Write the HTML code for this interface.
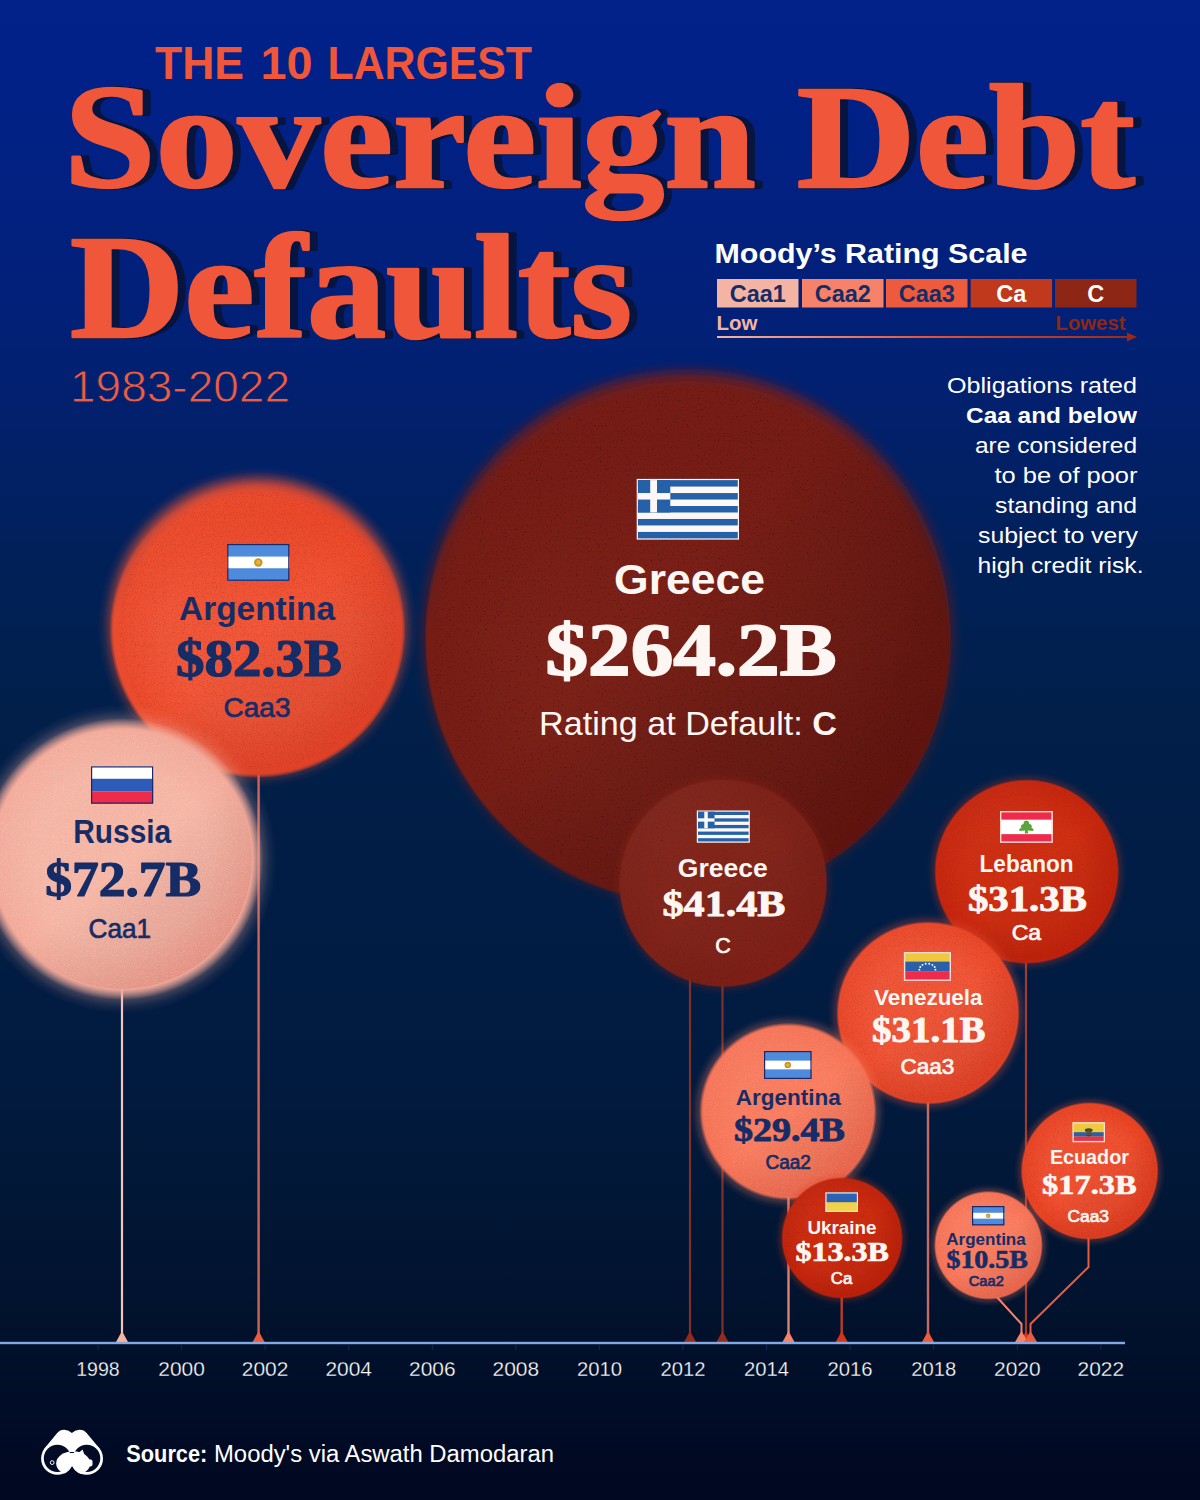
<!DOCTYPE html>
<html lang="en">
<head>
<meta charset="utf-8">
<title>The 10 Largest Sovereign Debt Defaults 1983-2022</title>
<style>
html,body{margin:0;padding:0;background:#010822}
body{width:1200px;height:1500px;overflow:hidden;position:relative;font-family:"Liberation Sans",sans-serif}
#bg{position:absolute;left:0;top:0;width:1200px;height:1500px;background:linear-gradient(180deg,#012289 0px,#012189 60px,#022079 300px,#02206c 420px,#012059 560px,#012050 650px,#011f4a 710px,#011d45 880px,#011b40 1060px,#011736 1200px,#01122d 1320px,#010822 1480px)}
svg{position:absolute;left:0;top:0;display:block}
text{white-space:pre}
.ttl{filter:drop-shadow(1.25px .5px 0 #071540) drop-shadow(1.25px .5px 0 #071540) drop-shadow(1.25px .5px 0 #071540) drop-shadow(1.25px .5px 0 #071540) drop-shadow(1.25px .5px 0 #071540) drop-shadow(1.25px .5px 0 #071540) drop-shadow(1.25px .5px 0 #071540) drop-shadow(1.25px .5px 0 #071540)}
</style>
</head>
<body>
<div id="bg"></div>
<svg width="1200" height="1500" viewBox="0 0 1200 1500">
<defs>
<radialGradient id="gl_greeceBig" cx="687.7" cy="637" r="276" gradientUnits="userSpaceOnUse"><stop offset="0" stop-color="#7e1f16" stop-opacity="0.36"/><stop offset="0.9384" stop-color="#7e1f16" stop-opacity="0.36"/><stop offset="0.9660" stop-color="#7e1f16" stop-opacity="0.187"/><stop offset="0.9828" stop-color="#7e1f16" stop-opacity="0.065"/><stop offset="1" stop-color="#7e1f16" stop-opacity="0"/></radialGradient>
<radialGradient id="g_greeceBig" cx="687.7" cy="640" r="263.5" gradientUnits="userSpaceOnUse"><stop offset="0" stop-color="#7b2118"/><stop offset=".62" stop-color="#7b2118"/><stop offset="0.9886" stop-color="#751d15"/><stop offset="1" stop-color="#751d15" stop-opacity="0"/></radialGradient>
<radialGradient id="gl_arg01" cx="257.5" cy="627" r="160" gradientUnits="userSpaceOnUse"><stop offset="0" stop-color="#f0573a" stop-opacity="0.42"/><stop offset="0.8938" stop-color="#f0573a" stop-opacity="0.42"/><stop offset="0.9414" stop-color="#f0573a" stop-opacity="0.218"/><stop offset="0.9703" stop-color="#f0573a" stop-opacity="0.076"/><stop offset="1" stop-color="#f0573a" stop-opacity="0"/></radialGradient>
<radialGradient id="g_arg01" cx="257.5" cy="630" r="148.0" gradientUnits="userSpaceOnUse"><stop offset="0" stop-color="#f25739"/><stop offset=".62" stop-color="#f25739"/><stop offset="0.9730" stop-color="#ec4a2c"/><stop offset="1" stop-color="#ec4a2c" stop-opacity="0"/></radialGradient>
<radialGradient id="gl_russia" cx="122" cy="859" r="154.5" gradientUnits="userSpaceOnUse"><stop offset="0" stop-color="#f3ae9e" stop-opacity="0.42"/><stop offset="0.8576" stop-color="#f3ae9e" stop-opacity="0.42"/><stop offset="0.9176" stop-color="#f3ae9e" stop-opacity="0.218"/><stop offset="0.9582" stop-color="#f3ae9e" stop-opacity="0.076"/><stop offset="1" stop-color="#f3ae9e" stop-opacity="0"/></radialGradient>
<radialGradient id="g_russia" cx="122" cy="859" r="141.0" gradientUnits="userSpaceOnUse"><stop offset="0" stop-color="#f6b6a6"/><stop offset=".62" stop-color="#f6b6a6"/><stop offset="0.9220" stop-color="#f3aa9a"/><stop offset="1" stop-color="#f3aa9a" stop-opacity="0"/></radialGradient>
<radialGradient id="gl_greece12" cx="723" cy="883" r="112.5" gradientUnits="userSpaceOnUse"><stop offset="0" stop-color="#8a2418" stop-opacity="0.32"/><stop offset="0.8933" stop-color="#8a2418" stop-opacity="0.32"/><stop offset="0.9464" stop-color="#8a2418" stop-opacity="0.166"/><stop offset="0.9728" stop-color="#8a2418" stop-opacity="0.058"/><stop offset="1" stop-color="#8a2418" stop-opacity="0"/></radialGradient>
<radialGradient id="g_greece12" cx="723" cy="883" r="104.5" gradientUnits="userSpaceOnUse"><stop offset="0" stop-color="#82251b"/><stop offset=".62" stop-color="#82251b"/><stop offset="0.9809" stop-color="#7c2118"/><stop offset="1" stop-color="#7c2118" stop-opacity="0"/></radialGradient>
<radialGradient id="gl_lebanon" cx="1026.6" cy="871.6" r="100.5" gradientUnits="userSpaceOnUse"><stop offset="0" stop-color="#d8391a" stop-opacity="0.32"/><stop offset="0.8806" stop-color="#d8391a" stop-opacity="0.32"/><stop offset="0.9400" stop-color="#d8391a" stop-opacity="0.166"/><stop offset="0.9696" stop-color="#d8391a" stop-opacity="0.058"/><stop offset="1" stop-color="#d8391a" stop-opacity="0"/></radialGradient>
<radialGradient id="g_lebanon" cx="1026.6" cy="871.6" r="92.5" gradientUnits="userSpaceOnUse"><stop offset="0" stop-color="#cf2f12"/><stop offset=".62" stop-color="#cf2f12"/><stop offset="0.9784" stop-color="#c5250d"/><stop offset="1" stop-color="#c5250d" stop-opacity="0"/></radialGradient>
<radialGradient id="gl_venezuela" cx="928" cy="1013" r="100.5" gradientUnits="userSpaceOnUse"><stop offset="0" stop-color="#f0573a" stop-opacity="0.36"/><stop offset="0.8706" stop-color="#f0573a" stop-opacity="0.36"/><stop offset="0.9333" stop-color="#f0573a" stop-opacity="0.187"/><stop offset="0.9662" stop-color="#f0573a" stop-opacity="0.065"/><stop offset="1" stop-color="#f0573a" stop-opacity="0"/></radialGradient>
<radialGradient id="g_venezuela" cx="928" cy="1013" r="91.75" gradientUnits="userSpaceOnUse"><stop offset="0" stop-color="#f15638"/><stop offset=".62" stop-color="#f15638"/><stop offset="0.9728" stop-color="#ea4829"/><stop offset="1" stop-color="#ea4829" stop-opacity="0"/></radialGradient>
<radialGradient id="gl_arg14" cx="788" cy="1111.5" r="98" gradientUnits="userSpaceOnUse"><stop offset="0" stop-color="#f87e62" stop-opacity="0.4"/><stop offset="0.8571" stop-color="#f87e62" stop-opacity="0.4"/><stop offset="0.9248" stop-color="#f87e62" stop-opacity="0.208"/><stop offset="0.9618" stop-color="#f87e62" stop-opacity="0.072"/><stop offset="1" stop-color="#f87e62" stop-opacity="0"/></radialGradient>
<radialGradient id="g_arg14" cx="788" cy="1111.5" r="88.75" gradientUnits="userSpaceOnUse"><stop offset="0" stop-color="#f97c5f"/><stop offset=".62" stop-color="#f97c5f"/><stop offset="0.9606" stop-color="#f67356"/><stop offset="1" stop-color="#f67356" stop-opacity="0"/></radialGradient>
<radialGradient id="gl_ecuador" cx="1089.6" cy="1171" r="76" gradientUnits="userSpaceOnUse"><stop offset="0" stop-color="#f0573a" stop-opacity="0.34"/><stop offset="0.8553" stop-color="#f0573a" stop-opacity="0.34"/><stop offset="0.9295" stop-color="#f0573a" stop-opacity="0.177"/><stop offset="0.9642" stop-color="#f0573a" stop-opacity="0.061"/><stop offset="1" stop-color="#f0573a" stop-opacity="0"/></radialGradient>
<radialGradient id="g_ecuador" cx="1089.6" cy="1171" r="69.0" gradientUnits="userSpaceOnUse"><stop offset="0" stop-color="#f05131"/><stop offset=".62" stop-color="#f05131"/><stop offset="0.9710" stop-color="#e84222"/><stop offset="1" stop-color="#e84222" stop-opacity="0"/></radialGradient>
<radialGradient id="gl_ukraine" cx="842" cy="1238" r="68" gradientUnits="userSpaceOnUse"><stop offset="0" stop-color="#d8391a" stop-opacity="0.32"/><stop offset="0.8382" stop-color="#d8391a" stop-opacity="0.32"/><stop offset="0.9212" stop-color="#d8391a" stop-opacity="0.166"/><stop offset="0.9600" stop-color="#d8391a" stop-opacity="0.058"/><stop offset="1" stop-color="#d8391a" stop-opacity="0"/></radialGradient>
<radialGradient id="g_ukraine" cx="842" cy="1238" r="61.0" gradientUnits="userSpaceOnUse"><stop offset="0" stop-color="#cc2c10"/><stop offset=".62" stop-color="#cc2c10"/><stop offset="0.9672" stop-color="#c1230b"/><stop offset="1" stop-color="#c1230b" stop-opacity="0"/></radialGradient>
<radialGradient id="gl_arg20" cx="988.4" cy="1245.3" r="61.5" gradientUnits="userSpaceOnUse"><stop offset="0" stop-color="#f87e62" stop-opacity="0.36"/><stop offset="0.8211" stop-color="#f87e62" stop-opacity="0.36"/><stop offset="0.9128" stop-color="#f87e62" stop-opacity="0.187"/><stop offset="0.9558" stop-color="#f87e62" stop-opacity="0.065"/><stop offset="1" stop-color="#f87e62" stop-opacity="0"/></radialGradient>
<radialGradient id="g_arg20" cx="988.4" cy="1245.3" r="54.5" gradientUnits="userSpaceOnUse"><stop offset="0" stop-color="#f97c5f"/><stop offset=".62" stop-color="#f97c5f"/><stop offset="0.9633" stop-color="#f67154"/><stop offset="1" stop-color="#f67154" stop-opacity="0"/></radialGradient>
<linearGradient id="shadeBig" x1="0.1" y1="0.15" x2="0.9" y2="0.9"><stop offset="0" stop-color="#000" stop-opacity="0"/><stop offset=".4" stop-color="#000" stop-opacity="0"/><stop offset="1" stop-color="#3a0000" stop-opacity=".38"/></linearGradient>
<linearGradient id="shade" x1="0.15" y1="0.1" x2="0.85" y2="0.95"><stop offset="0" stop-color="#fff" stop-opacity=".03"/><stop offset=".5" stop-color="#000" stop-opacity="0"/><stop offset="1" stop-color="#a80800" stop-opacity=".17"/></linearGradient>
<filter id="grainA" x="0" y="0" width="100%" height="100%" color-interpolation-filters="sRGB"><feTurbulence type="fractalNoise" baseFrequency="0.55" numOctaves="1" seed="7" result="n"/><feColorMatrix in="n" type="matrix" values="0 0 0 0 0.22  0 0 0 0 0.02  0 0 0 0 0.01  4.2 0 0 0 -2.55" result="a"/><feComposite in="a" in2="SourceAlpha" operator="in"/></filter>
<filter id="grainB" x="0" y="0" width="100%" height="100%" color-interpolation-filters="sRGB"><feTurbulence type="fractalNoise" baseFrequency="0.9" numOctaves="2" seed="11" result="n"/><feColorMatrix in="n" type="matrix" values="0 0 0 0 0.55  0 0 0 0 0.08  0 0 0 0 0.02  3.4 0 0 0 -1.75" result="a"/><feComposite in="a" in2="SourceAlpha" operator="in"/></filter>
<filter id="grainC" x="0" y="0" width="100%" height="100%" color-interpolation-filters="sRGB"><feTurbulence type="fractalNoise" baseFrequency="0.9" numOctaves="2" seed="5" result="n"/><feColorMatrix in="n" type="matrix" values="0 0 0 0 1  0 0 0 0 0.93  0 0 0 0 0.88  3.4 0 0 0 -1.75" result="a"/><feComposite in="a" in2="SourceAlpha" operator="in"/></filter>
<linearGradient id="mg_greeceBig" x1="0" y1="368" x2="0" y2="626.9" gradientUnits="userSpaceOnUse"><stop offset="0" stop-color="#fff" stop-opacity="0"/><stop offset=".25" stop-color="#fff" stop-opacity="0"/><stop offset="1" stop-color="#fff" stop-opacity="1"/></linearGradient>
<mask id="mk_greeceBig" maskUnits="userSpaceOnUse" x="413.70000000000005" y="366" width="548" height="548"><rect x="413.70000000000005" y="366" width="548" height="548" fill="url(#mg_greeceBig)"/></mask>
<filter id="bl_greeceBig" x="-10%" y="-10%" width="120%" height="120%"><feGaussianBlur stdDeviation="6.5"/></filter>
<linearGradient id="mg_arg01" x1="0" y1="474" x2="0" y2="615.4" gradientUnits="userSpaceOnUse"><stop offset="0" stop-color="#fff" stop-opacity="0"/><stop offset=".25" stop-color="#fff" stop-opacity="0"/><stop offset="1" stop-color="#fff" stop-opacity="1"/></linearGradient>
<mask id="mk_arg01" maskUnits="userSpaceOnUse" x="99.5" y="472" width="316" height="316"><rect x="99.5" y="472" width="316" height="316" fill="url(#mg_arg01)"/></mask>
<filter id="bl_arg01" x="-10%" y="-10%" width="120%" height="120%"><feGaussianBlur stdDeviation="6"/></filter>
<linearGradient id="arrowg" x1="717" y1="0" x2="1136" y2="0" gradientUnits="userSpaceOnUse"><stop offset="0" stop-color="#f4b4a4"/><stop offset=".5" stop-color="#e0563a"/><stop offset="1" stop-color="#9a2a16"/></linearGradient>
</defs>
<g id="header">
<text y="79" font-size="46.5" fill="#f0573a" font-weight="700" font-family='"Liberation Sans", sans-serif'><tspan x="155" textLength="89" lengthAdjust="spacingAndGlyphs">THE</tspan> <tspan x="260.5" textLength="52" lengthAdjust="spacingAndGlyphs">10</tspan> <tspan x="327.5" textLength="204.5" lengthAdjust="spacingAndGlyphs">LARGEST</tspan></text>
<g class="ttl">
<text x="64" y="187" font-size="148" fill="#f0573a" font-weight="700" font-family='"Liberation Serif", serif' textLength="1071" lengthAdjust="spacingAndGlyphs" stroke="#f0573a" stroke-width="2.5" stroke-linejoin="round">Sovereign Debt</text>
<text x="70" y="337" font-size="148" fill="#f0573a" font-weight="700" font-family='"Liberation Serif", serif' textLength="562" lengthAdjust="spacingAndGlyphs" stroke="#f0573a" stroke-width="2.5" stroke-linejoin="round">Defaults</text>
</g>
<text x="70" y="402" font-size="44" fill="#ee5d42" font-weight="400" font-family='"Liberation Sans", sans-serif' textLength="220" lengthAdjust="spacingAndGlyphs" stroke="#02206f" stroke-width=".9">1983-2022</text>
</g>
<g id="scale">
<text x="714.5" y="262.5" font-size="27.5" fill="#ffffff" font-weight="700" font-family='"Liberation Sans", sans-serif' textLength="313" lengthAdjust="spacingAndGlyphs">Moody’s Rating Scale</text>
<rect x="717" y="279" width="81.5" height="28.5" fill="#f4b4a4"/><text x="757.75" y="302" font-size="23.5" fill="#152c66" font-weight="700" font-family='"Liberation Sans", sans-serif' text-anchor="middle">Caa1</text>
<rect x="802" y="279" width="81.5" height="28.5" fill="#f7826a"/><text x="842.75" y="302" font-size="23.5" fill="#152c66" font-weight="700" font-family='"Liberation Sans", sans-serif' text-anchor="middle">Caa2</text>
<rect x="886" y="279" width="81.5" height="28.5" fill="#ee5a3c"/><text x="926.75" y="302" font-size="23.5" fill="#152c66" font-weight="700" font-family='"Liberation Sans", sans-serif' text-anchor="middle">Caa3</text>
<rect x="970.6" y="279" width="81.5" height="28.5" fill="#c0391c"/><text x="1011.35" y="302" font-size="23.5" fill="#ffffff" font-weight="700" font-family='"Liberation Sans", sans-serif' text-anchor="middle">Ca</text>
<rect x="1055" y="279" width="81.5" height="28.5" fill="#8e2615"/><text x="1095.75" y="302" font-size="23.5" fill="#ffffff" font-weight="700" font-family='"Liberation Sans", sans-serif' text-anchor="middle">C</text>
<text x="716.5" y="330" font-size="19.5" fill="#f4b4a4" font-weight="700" font-family='"Liberation Sans", sans-serif' textLength="41" lengthAdjust="spacingAndGlyphs">Low</text>
<text x="1125.5" y="330" font-size="19.5" fill="#8e2615" font-weight="700" font-family='"Liberation Sans", sans-serif' text-anchor="end" textLength="70" lengthAdjust="spacingAndGlyphs">Lowest</text>
<path d="M717 337 H1128" stroke="url(#arrowg)" stroke-width="1.8" fill="none"/><path d="M1127 332.5 L1137 337 L1127 341.5 Z" fill="#9a2a16"/>
</g>
<g id="note">
<text x="1137" y="393" font-size="22.5" fill="#ffffff" font-weight="400" font-family='"Liberation Sans", sans-serif' text-anchor="end" textLength="190" lengthAdjust="spacingAndGlyphs">Obligations rated</text>
<text x="1137" y="423" font-size="22.5" fill="#ffffff" font-weight="700" font-family='"Liberation Sans", sans-serif' text-anchor="end" textLength="171" lengthAdjust="spacingAndGlyphs">Caa and below</text>
<text x="1137" y="453" font-size="22.5" fill="#ffffff" font-weight="400" font-family='"Liberation Sans", sans-serif' text-anchor="end" textLength="162" lengthAdjust="spacingAndGlyphs">are considered</text>
<text x="1137.5" y="483" font-size="22.5" fill="#ffffff" font-weight="400" font-family='"Liberation Sans", sans-serif' text-anchor="end" textLength="143" lengthAdjust="spacingAndGlyphs">to be of poor</text>
<text x="1137" y="513" font-size="22.5" fill="#ffffff" font-weight="400" font-family='"Liberation Sans", sans-serif' text-anchor="end" textLength="142" lengthAdjust="spacingAndGlyphs">standing and</text>
<text x="1138" y="543" font-size="22.5" fill="#ffffff" font-weight="400" font-family='"Liberation Sans", sans-serif' text-anchor="end" textLength="160" lengthAdjust="spacingAndGlyphs">subject to very</text>
<text x="1143.5" y="573" font-size="22.5" fill="#ffffff" font-weight="400" font-family='"Liberation Sans", sans-serif' text-anchor="end" textLength="166" lengthAdjust="spacingAndGlyphs">high credit risk.</text>
</g>
<g id="stems">
<path d="M122 985 V1339" stroke="#f2c4bc" stroke-width="2.2" fill="none"/><path d="M116 1342 L122 1331 L128 1342 Z" fill="#f4b4a4"/>
<path d="M258.6 765 V1339" stroke="#cc6558" stroke-width="2.4" fill="none"/><path d="M252.60000000000002 1342 L258.6 1331 L264.6 1342 Z" fill="#ee5a3c"/>
<path d="M690 880 V1339" stroke="#80302a" stroke-width="2.2" fill="none"/><path d="M684 1342 L690 1331 L696 1342 Z" fill="#932a1b"/>
<path d="M722.5 980 V1339" stroke="#80302a" stroke-width="2.2" fill="none"/><path d="M716.5 1342 L722.5 1331 L728.5 1342 Z" fill="#932a1b"/>
<path d="M788.5 1190 V1339" stroke="#dc8470" stroke-width="2.4" fill="none"/><path d="M782.5 1342 L788.5 1331 L794.5 1342 Z" fill="#f7826a"/>
<path d="M841.7 1290 V1339" stroke="#b93c2a" stroke-width="2.4" fill="none"/><path d="M835.7 1342 L841.7 1331 L847.7 1342 Z" fill="#d23518"/>
<path d="M928 1095 V1339" stroke="#c66a66" stroke-width="2.4" fill="none"/><path d="M922 1342 L928 1331 L934 1342 Z" fill="#ee5a3c"/>
<path d="M1026 955 V1339" stroke="#a23a30" stroke-width="2.2" fill="none"/><path d="M1020 1342 L1026 1331 L1032 1342 Z" fill="#d23518"/>
<path d="M996 1296 L1021.5 1324 V1339" stroke="#f7826a" stroke-width="2" fill="none"/><path d="M1015 1342 L1021.5 1331 L1028 1342 Z" fill="#f7826a"/>
<path d="M1088.5 1232 V1267 L1030.5 1324 V1339" stroke="#ee5a3c" stroke-width="2" fill="none"/><path d="M1024 1342 L1030.5 1331 L1037 1342 Z" fill="#ee5a3c"/>
</g>
<g id="axis">
<rect x="0" y="1341.8" width="1125" height="2.4" fill="#86a8e2"/>
<rect x="97.5" y="1345" width="1" height="5" fill="#16295a"/><text x="98.0" y="1375.5" font-size="20" fill="#ffffff" font-weight="400" font-family='"Liberation Sans", sans-serif' text-anchor="middle" textLength="43.5" lengthAdjust="spacingAndGlyphs" stroke="#01112b" stroke-width=".3">1998</text>
<rect x="181.1" y="1345" width="1" height="5" fill="#16295a"/><text x="181.6" y="1375.5" font-size="20" fill="#ffffff" font-weight="400" font-family='"Liberation Sans", sans-serif' text-anchor="middle" textLength="46.5" lengthAdjust="spacingAndGlyphs" stroke="#01112b" stroke-width=".3">2000</text>
<rect x="264.6" y="1345" width="1" height="5" fill="#16295a"/><text x="265.1" y="1375.5" font-size="20" fill="#ffffff" font-weight="400" font-family='"Liberation Sans", sans-serif' text-anchor="middle" textLength="46.5" lengthAdjust="spacingAndGlyphs" stroke="#01112b" stroke-width=".3">2002</text>
<rect x="348.2" y="1345" width="1" height="5" fill="#16295a"/><text x="348.7" y="1375.5" font-size="20" fill="#ffffff" font-weight="400" font-family='"Liberation Sans", sans-serif' text-anchor="middle" textLength="46.5" lengthAdjust="spacingAndGlyphs" stroke="#01112b" stroke-width=".3">2004</text>
<rect x="431.8" y="1345" width="1" height="5" fill="#16295a"/><text x="432.3" y="1375.5" font-size="20" fill="#ffffff" font-weight="400" font-family='"Liberation Sans", sans-serif' text-anchor="middle" textLength="46.5" lengthAdjust="spacingAndGlyphs" stroke="#01112b" stroke-width=".3">2006</text>
<rect x="515.3" y="1345" width="1" height="5" fill="#16295a"/><text x="515.8" y="1375.5" font-size="20" fill="#ffffff" font-weight="400" font-family='"Liberation Sans", sans-serif' text-anchor="middle" textLength="46.5" lengthAdjust="spacingAndGlyphs" stroke="#01112b" stroke-width=".3">2008</text>
<rect x="598.9" y="1345" width="1" height="5" fill="#16295a"/><text x="599.4" y="1375.5" font-size="20" fill="#ffffff" font-weight="400" font-family='"Liberation Sans", sans-serif' text-anchor="middle" textLength="45" lengthAdjust="spacingAndGlyphs" stroke="#01112b" stroke-width=".3">2010</text>
<rect x="682.5" y="1345" width="1" height="5" fill="#16295a"/><text x="683.0" y="1375.5" font-size="20" fill="#ffffff" font-weight="400" font-family='"Liberation Sans", sans-serif' text-anchor="middle" textLength="45" lengthAdjust="spacingAndGlyphs" stroke="#01112b" stroke-width=".3">2012</text>
<rect x="766.1" y="1345" width="1" height="5" fill="#16295a"/><text x="766.6" y="1375.5" font-size="20" fill="#ffffff" font-weight="400" font-family='"Liberation Sans", sans-serif' text-anchor="middle" textLength="45" lengthAdjust="spacingAndGlyphs" stroke="#01112b" stroke-width=".3">2014</text>
<rect x="849.6" y="1345" width="1" height="5" fill="#16295a"/><text x="850.1" y="1375.5" font-size="20" fill="#ffffff" font-weight="400" font-family='"Liberation Sans", sans-serif' text-anchor="middle" textLength="45" lengthAdjust="spacingAndGlyphs" stroke="#01112b" stroke-width=".3">2016</text>
<rect x="933.2" y="1345" width="1" height="5" fill="#16295a"/><text x="933.7" y="1375.5" font-size="20" fill="#ffffff" font-weight="400" font-family='"Liberation Sans", sans-serif' text-anchor="middle" textLength="45" lengthAdjust="spacingAndGlyphs" stroke="#01112b" stroke-width=".3">2018</text>
<rect x="1016.8" y="1345" width="1" height="5" fill="#16295a"/><text x="1017.3" y="1375.5" font-size="20" fill="#ffffff" font-weight="400" font-family='"Liberation Sans", sans-serif' text-anchor="middle" textLength="46.5" lengthAdjust="spacingAndGlyphs" stroke="#01112b" stroke-width=".3">2020</text>
<rect x="1100.3" y="1345" width="1" height="5" fill="#16295a"/><text x="1100.8" y="1375.5" font-size="20" fill="#ffffff" font-weight="400" font-family='"Liberation Sans", sans-serif' text-anchor="middle" textLength="46.5" lengthAdjust="spacingAndGlyphs" stroke="#01112b" stroke-width=".3">2022</text>
</g>
<g id="bubbles">
<g id="greeceBig">
<circle cx="687.7" cy="637" r="276" fill="url(#gl_greeceBig)"/><circle cx="687.7" cy="631" r="256" fill="#751d15" filter="url(#bl_greeceBig)"/><g mask="url(#mk_greeceBig)"><circle cx="687.7" cy="640" r="263.5" fill="url(#g_greeceBig)"/></g><circle cx="687.7" cy="640" r="261.5" fill="url(#shadeBig)"/><circle cx="687.7" cy="640" r="255.5" fill="#000" filter="url(#grainA)" opacity="0.55"/>
<g><rect x="636.7" y="478.9" width="102.3" height="60.7" fill="#fdf8f5"/><rect x="637.90" y="480.10" width="99.90" height="6.48" fill="#2561a9"/><rect x="637.90" y="493.06" width="99.90" height="6.48" fill="#2561a9"/><rect x="637.90" y="506.01" width="99.90" height="6.48" fill="#2561a9"/><rect x="637.90" y="518.97" width="99.90" height="6.48" fill="#2561a9"/><rect x="637.90" y="531.92" width="99.90" height="6.48" fill="#2561a9"/><rect x="637.90" y="480.10" width="32.39" height="32.39" fill="#2561a9"/><rect x="650.21" y="480.10" width="6.80" height="32.39" fill="#fdf8f5"/><rect x="637.90" y="493.06" width="32.39" height="6.48" fill="#fdf8f5"/></g>
<text x="689.5" y="593.7" font-size="42" fill="#fdf6f2" font-weight="700" font-family='"Liberation Sans", sans-serif' text-anchor="middle" textLength="151" lengthAdjust="spacingAndGlyphs">Greece</text>
<text x="691" y="675.4" font-size="73" fill="#fdf6f2" font-weight="700" font-family='"Liberation Serif", serif' text-anchor="middle" textLength="291" lengthAdjust="spacingAndGlyphs" stroke="#fdf6f2" stroke-width="1.8" stroke-linejoin="round">$264.2B</text>
<text x="688" y="735" font-size="33.5" fill="#fdf6f2" font-family='"Liberation Sans", sans-serif' text-anchor="middle" textLength="298" lengthAdjust="spacingAndGlyphs">Rating at Default: <tspan font-weight="700">C</tspan></text>
</g>
<g id="arg01">
<circle cx="257.5" cy="627" r="160" fill="url(#gl_arg01)"/><circle cx="257.5" cy="624" r="141" fill="#ec4a2c" filter="url(#bl_arg01)"/><g mask="url(#mk_arg01)"><circle cx="257.5" cy="630" r="148.0" fill="url(#g_arg01)"/></g><circle cx="257.5" cy="630" r="145.5" fill="url(#shade)"/><circle cx="257.5" cy="630" r="139.0" fill="#000" filter="url(#grainB)" opacity="0.22"/>
<g><rect x="227.2" y="544" width="62.2" height="36.8" fill="#4f8bdc"/><rect x="227.2" y="556.57" width="62.2" height="11.67" fill="#ffffff"/><circle cx="258.30" cy="562.40" r="4.23" fill="#c8931e"/><circle cx="258.30" cy="562.40" r="2.33" fill="#e6b435"/><rect x="227.80" y="544.60" width="61.00" height="35.60" fill="none" stroke="#1c2768" stroke-width="1.2"/></g>
<text x="257" y="620" font-size="33.5" fill="#152c66" font-weight="700" font-family='"Liberation Sans", sans-serif' text-anchor="middle" textLength="156" lengthAdjust="spacingAndGlyphs">Argentina</text>
<text x="259" y="675.6" font-size="52" fill="#152c66" font-weight="700" font-family='"Liberation Serif", serif' text-anchor="middle" textLength="166" lengthAdjust="spacingAndGlyphs" stroke="#152c66" stroke-width="1.2" stroke-linejoin="round">$82.3B</text>
<text x="257" y="717" font-size="28" fill="#152c66" font-weight="400" font-family='"Liberation Sans", sans-serif' text-anchor="middle" textLength="67" lengthAdjust="spacingAndGlyphs" stroke="#152c66" stroke-width="0.7" stroke-linejoin="round">Caa3</text>
</g>
<g id="russia">
<circle cx="122" cy="859" r="154.5" fill="url(#gl_russia)"/><circle cx="122" cy="859" r="141.0" fill="url(#g_russia)"/><circle cx="122" cy="859" r="130.0" fill="url(#shade)"/><circle cx="122" cy="859" r="129.0" fill="#000" filter="url(#grainC)" opacity="0.22"/>
<g><rect x="91" y="766.3" width="62.2" height="37.4" fill="#ffffff"/><rect x="91" y="778.77" width="62.2" height="12.47" fill="#2d5cb8"/><rect x="91" y="791.23" width="62.2" height="12.47" fill="#f02b4a"/><rect x="91.60" y="766.90" width="61.00" height="36.20" fill="none" stroke="#1c2768" stroke-width="1.2"/></g>
<text x="122.2" y="843.4" font-size="33.5" fill="#152c66" font-weight="700" font-family='"Liberation Sans", sans-serif' text-anchor="middle" textLength="98" lengthAdjust="spacingAndGlyphs">Russia</text>
<text x="123.2" y="895.9" font-size="51" fill="#152c66" font-weight="700" font-family='"Liberation Serif", serif' text-anchor="middle" textLength="156" lengthAdjust="spacingAndGlyphs" stroke="#152c66" stroke-width="1.2" stroke-linejoin="round">$72.7B</text>
<text x="119.8" y="938.3" font-size="28" fill="#152c66" font-weight="400" font-family='"Liberation Sans", sans-serif' text-anchor="middle" textLength="62.5" lengthAdjust="spacingAndGlyphs" stroke="#152c66" stroke-width="0.7" stroke-linejoin="round">Caa1</text>
</g>
<g id="greece12">
<circle cx="723" cy="883" r="112.5" fill="url(#gl_greece12)"/><circle cx="723" cy="883" r="104.5" fill="url(#g_greece12)"/><circle cx="723" cy="883" r="102.5" fill="url(#shade)"/><circle cx="723" cy="883" r="101.5" fill="#000" filter="url(#grainA)" opacity="0.25"/>
<g><rect x="696.8" y="810.5" width="53" height="32.2" fill="#fdf8f5"/><rect x="698.00" y="811.70" width="50.60" height="3.31" fill="#2561a9"/><rect x="698.00" y="818.32" width="50.60" height="3.31" fill="#2561a9"/><rect x="698.00" y="824.94" width="50.60" height="3.31" fill="#2561a9"/><rect x="698.00" y="831.57" width="50.60" height="3.31" fill="#2561a9"/><rect x="698.00" y="838.19" width="50.60" height="3.31" fill="#2561a9"/><rect x="698.00" y="811.70" width="16.56" height="16.56" fill="#2561a9"/><rect x="704.29" y="811.70" width="3.48" height="16.56" fill="#fdf8f5"/><rect x="698.00" y="818.32" width="16.56" height="3.31" fill="#fdf8f5"/></g>
<text x="722.8" y="877.3" font-size="25" fill="#fdf6f2" font-weight="700" font-family='"Liberation Sans", sans-serif' text-anchor="middle" textLength="90" lengthAdjust="spacingAndGlyphs">Greece</text>
<text x="724" y="916.3" font-size="36.5" fill="#fdf6f2" font-weight="700" font-family='"Liberation Serif", serif' text-anchor="middle" textLength="123" lengthAdjust="spacingAndGlyphs" stroke="#fdf6f2" stroke-width="0.9" stroke-linejoin="round">$41.4B</text>
<text x="723" y="952.7" font-size="21.5" fill="#fdf6f2" font-weight="400" font-family='"Liberation Sans", sans-serif' text-anchor="middle" stroke="#fdf6f2" stroke-width="0.7" stroke-linejoin="round">C</text>
</g>
<g id="lebanon">
<circle cx="1026.6" cy="871.6" r="100.5" fill="url(#gl_lebanon)"/><circle cx="1026.6" cy="871.6" r="92.5" fill="url(#g_lebanon)"/><circle cx="1026.6" cy="871.6" r="90.5" fill="url(#shade)"/><circle cx="1026.6" cy="871.6" r="89.5" fill="#000" filter="url(#grainB)" opacity="0.18"/>
<g><rect x="1000" y="811" width="52.8" height="31.8" fill="#ffffff"/><rect x="1000" y="811" width="52.8" height="8.65" fill="#ee2b4c"/><rect x="1000" y="834.15" width="52.8" height="8.65" fill="#ee2b4c"/><path d="M1026.40 820.45 C1029.00 820.85 1029.60 822.85 1029.00 823.85 C1031.60 824.35 1032.60 826.45 1031.40 827.75 C1033.60 828.35 1034.20 830.05 1033.00 831.05 L1027.70 830.55 L1028.10 833.45 L1024.70 833.45 L1025.10 830.55 L1019.80 831.05 C1018.60 830.05 1019.20 828.35 1021.40 827.75 C1020.20 826.45 1021.20 824.35 1023.80 823.85 C1023.20 822.85 1023.80 820.85 1026.40 820.45 Z" fill="#5ba53c"/><rect x="1000.70" y="811.70" width="51.40" height="30.40" fill="none" stroke="#fbdcd3" stroke-width="1.4"/></g>
<text x="1026.6" y="871.9" font-size="23.5" fill="#fdf6f2" font-weight="700" font-family='"Liberation Sans", sans-serif' text-anchor="middle" textLength="94" lengthAdjust="spacingAndGlyphs">Lebanon</text>
<text x="1027.4" y="910.8" font-size="35.5" fill="#fdf6f2" font-weight="700" font-family='"Liberation Serif", serif' text-anchor="middle" textLength="119" lengthAdjust="spacingAndGlyphs" stroke="#fdf6f2" stroke-width="0.9" stroke-linejoin="round">$31.3B</text>
<text x="1026.4" y="940" font-size="21.5" fill="#fdf6f2" font-weight="400" font-family='"Liberation Sans", sans-serif' text-anchor="middle" textLength="29.5" lengthAdjust="spacingAndGlyphs" stroke="#fdf6f2" stroke-width="0.7" stroke-linejoin="round">Ca</text>
</g>
<g id="venezuela">
<circle cx="928" cy="1013" r="100.5" fill="url(#gl_venezuela)"/><circle cx="928" cy="1013" r="91.75" fill="url(#g_venezuela)"/><circle cx="928" cy="1013" r="89.25" fill="url(#shade)"/><circle cx="928" cy="1013" r="88.25" fill="#000" filter="url(#grainB)" opacity="0.18"/>
<g><rect x="903.9" y="952" width="47.1" height="28.9" fill="#efc93a"/><rect x="903.9" y="961.63" width="47.1" height="9.63" fill="#2b5fa8"/><rect x="903.9" y="971.27" width="47.1" height="9.63" fill="#ee2b4a"/><circle cx="919.44" cy="969.63" r="0.95" fill="#fff"/><circle cx="920.24" cy="967.00" r="0.95" fill="#fff"/><circle cx="922.46" cy="964.88" r="0.95" fill="#fff"/><circle cx="925.67" cy="963.71" r="0.95" fill="#fff"/><circle cx="929.23" cy="963.71" r="0.95" fill="#fff"/><circle cx="932.44" cy="964.88" r="0.95" fill="#fff"/><circle cx="934.66" cy="967.00" r="0.95" fill="#fff"/><circle cx="935.46" cy="969.63" r="0.95" fill="#fff"/><rect x="904.60" y="952.70" width="45.70" height="27.50" fill="none" stroke="#fbdcd3" stroke-width="1.4"/></g>
<text x="928.3" y="1005.2" font-size="22.5" fill="#fdf6f2" font-weight="700" font-family='"Liberation Sans", sans-serif' text-anchor="middle" textLength="108.5" lengthAdjust="spacingAndGlyphs">Venezuela</text>
<text x="928.8" y="1041.5" font-size="35.5" fill="#fdf6f2" font-weight="700" font-family='"Liberation Serif", serif' text-anchor="middle" textLength="113.5" lengthAdjust="spacingAndGlyphs" stroke="#fdf6f2" stroke-width="0.9" stroke-linejoin="round">$31.1B</text>
<text x="927.4" y="1074" font-size="22" fill="#fdf6f2" font-weight="400" font-family='"Liberation Sans", sans-serif' text-anchor="middle" textLength="54" lengthAdjust="spacingAndGlyphs" stroke="#fdf6f2" stroke-width="0.7" stroke-linejoin="round">Caa3</text>
</g>
<g id="arg14">
<circle cx="788" cy="1111.5" r="98" fill="url(#gl_arg14)"/><circle cx="788" cy="1111.5" r="88.75" fill="url(#g_arg14)"/><circle cx="788" cy="1111.5" r="85.25" fill="url(#shade)"/><circle cx="788" cy="1111.5" r="84.25" fill="#000" filter="url(#grainC)" opacity="0.12"/>
<g><rect x="764" y="1051" width="47.6" height="28" fill="#4f8bdc"/><rect x="764" y="1060.63" width="47.6" height="8.73" fill="#ffffff"/><circle cx="787.80" cy="1065.00" r="3.22" fill="#c8931e"/><circle cx="787.80" cy="1065.00" r="1.77" fill="#e6b435"/><rect x="764.60" y="1051.60" width="46.40" height="26.80" fill="none" stroke="#1c2768" stroke-width="1.2"/></g>
<text x="788.3" y="1105" font-size="22.5" fill="#152c66" font-weight="700" font-family='"Liberation Sans", sans-serif' text-anchor="middle" textLength="105" lengthAdjust="spacingAndGlyphs">Argentina</text>
<text x="789.5" y="1141" font-size="33.5" fill="#152c66" font-weight="700" font-family='"Liberation Serif", serif' text-anchor="middle" textLength="111" lengthAdjust="spacingAndGlyphs" stroke="#152c66" stroke-width="0.9" stroke-linejoin="round">$29.4B</text>
<text x="788.2" y="1169" font-size="19.5" fill="#152c66" font-weight="400" font-family='"Liberation Sans", sans-serif' text-anchor="middle" textLength="45.4" lengthAdjust="spacingAndGlyphs" stroke="#152c66" stroke-width="0.7" stroke-linejoin="round">Caa2</text>
</g>
<g id="ecuador">
<circle cx="1089.6" cy="1171" r="76" fill="url(#gl_ecuador)"/><circle cx="1089.6" cy="1171" r="69.0" fill="url(#g_ecuador)"/><circle cx="1089.6" cy="1171" r="67.0" fill="url(#shade)"/><circle cx="1089.6" cy="1171" r="66.0" fill="#000" filter="url(#grainB)" opacity="0.16"/>
<g><rect x="1072.5" y="1122.2" width="32.5" height="20" fill="#efca3c"/><rect x="1072.5" y="1132.20" width="32.5" height="4.40" fill="#2b5fa8"/><rect x="1072.5" y="1136.60" width="32.5" height="5.60" fill="#e92f52"/><ellipse cx="1088.75" cy="1130.20" rx="3.90" ry="1.90" fill="#4a4228"/><ellipse cx="1088.75" cy="1132.80" rx="2.10" ry="3.00" fill="#5a5238"/><path d="M1085.35 1135.60 L1088.75 1134.40 L1092.15 1135.60 L1088.75 1136.50 Z" fill="#4a4228"/><rect x="1073.15" y="1122.85" width="31.20" height="18.70" fill="none" stroke="#fbdcd3" stroke-width="1.3"/></g>
<text x="1089.4" y="1164" font-size="19.5" fill="#fdf6f2" font-weight="700" font-family='"Liberation Sans", sans-serif' text-anchor="middle" textLength="79" lengthAdjust="spacingAndGlyphs">Ecuador</text>
<text x="1089.3" y="1194" font-size="28" fill="#fdf6f2" font-weight="700" font-family='"Liberation Serif", serif' text-anchor="middle" textLength="94.5" lengthAdjust="spacingAndGlyphs" stroke="#fdf6f2" stroke-width="0.7" stroke-linejoin="round">$17.3B</text>
<text x="1088.2" y="1221.7" font-size="17" fill="#fdf6f2" font-weight="400" font-family='"Liberation Sans", sans-serif' text-anchor="middle" textLength="41.5" lengthAdjust="spacingAndGlyphs" stroke="#fdf6f2" stroke-width="0.7" stroke-linejoin="round">Caa3</text>
</g>
<g id="ukraine">
<circle cx="842" cy="1238" r="68" fill="url(#gl_ukraine)"/><circle cx="842" cy="1238" r="61.0" fill="url(#g_ukraine)"/><circle cx="842" cy="1238" r="59.0" fill="url(#shade)"/><circle cx="842" cy="1238" r="58.0" fill="#000" filter="url(#grainB)" opacity="0.18"/>
<g><rect x="825.4" y="1192.4" width="32.6" height="19.6" fill="#f1d24a"/><rect x="825.4" y="1192.4" width="32.6" height="9.80" fill="#2b62b4"/><rect x="826.00" y="1193.00" width="31.40" height="18.40" fill="none" stroke="#fbdcd3" stroke-width="1.2"/></g>
<text x="842" y="1233.6" font-size="18" fill="#fdf6f2" font-weight="700" font-family='"Liberation Sans", sans-serif' text-anchor="middle" textLength="69" lengthAdjust="spacingAndGlyphs">Ukraine</text>
<text x="842.2" y="1261" font-size="27.5" fill="#fdf6f2" font-weight="700" font-family='"Liberation Serif", serif' text-anchor="middle" textLength="93.5" lengthAdjust="spacingAndGlyphs" stroke="#fdf6f2" stroke-width="0.7" stroke-linejoin="round">$13.3B</text>
<text x="841.5" y="1284" font-size="16" fill="#fdf6f2" font-weight="400" font-family='"Liberation Sans", sans-serif' text-anchor="middle" textLength="21.5" lengthAdjust="spacingAndGlyphs" stroke="#fdf6f2" stroke-width="0.7" stroke-linejoin="round">Ca</text>
</g>
<g id="arg20">
<circle cx="988.4" cy="1245.3" r="61.5" fill="url(#gl_arg20)"/><circle cx="988.4" cy="1245.3" r="54.5" fill="url(#g_arg20)"/><circle cx="988.4" cy="1245.3" r="52.5" fill="url(#shade)"/><circle cx="988.4" cy="1245.3" r="51.5" fill="#000" filter="url(#grainC)" opacity="0.1"/>
<g><rect x="972" y="1206" width="32.4" height="19.4" fill="#4f8bdc"/><rect x="972" y="1212.77" width="32.4" height="5.87" fill="#ffffff"/><circle cx="988.20" cy="1215.70" r="2.23" fill="#c8931e"/><circle cx="988.20" cy="1215.70" r="1.23" fill="#e6b435"/><rect x="972.60" y="1206.60" width="31.20" height="18.20" fill="none" stroke="#1c2768" stroke-width="1.2"/></g>
<text x="986" y="1244.6" font-size="16.5" fill="#152c66" font-weight="700" font-family='"Liberation Sans", sans-serif' text-anchor="middle" textLength="79.5" lengthAdjust="spacingAndGlyphs">Argentina</text>
<text x="987.2" y="1268" font-size="24.5" fill="#152c66" font-weight="700" font-family='"Liberation Serif", serif' text-anchor="middle" textLength="81.5" lengthAdjust="spacingAndGlyphs" stroke="#152c66" stroke-width="0.6" stroke-linejoin="round">$10.5B</text>
<text x="986.3" y="1285.8" font-size="14.5" fill="#152c66" font-weight="400" font-family='"Liberation Sans", sans-serif' text-anchor="middle" textLength="35" lengthAdjust="spacingAndGlyphs" stroke="#152c66" stroke-width="0.7" stroke-linejoin="round">Caa2</text>
</g>
</g>
<g id="footer">
<clipPath id="logoclip"><circle cx="57.4" cy="1458.5" r="16.3"/><circle cx="86.7" cy="1458.5" r="16.3"/><path d="M44 1449 L57 1433.2 Q60 1429.6 64.5 1429.8 Q69 1430 71.9 1433 Q74.8 1430 79.3 1429.8 Q83.8 1429.6 86.8 1433.2 L100 1449 L86.7 1460 L72 1452 L57.4 1460 Z"/></clipPath>
<g id="logo" fill="#ffffff"><circle cx="57.4" cy="1458.5" r="16.3"/><circle cx="86.7" cy="1458.5" r="16.3"/><path d="M44 1449 L57 1433.2 Q60 1429.6 64.5 1429.8 Q69 1430 71.9 1433 Q74.8 1430 79.3 1429.8 Q83.8 1429.6 86.8 1433.2 L100 1449 L86.7 1460 L72 1452 L57.4 1460 Z"/><circle cx="57.4" cy="1458.3" r="13.6" fill="#030b27"/><circle cx="86.7" cy="1458.3" r="13.6" fill="#030b27"/><g clip-path="url(#logoclip)"><ellipse cx="73.2" cy="1463.4" rx="17" ry="12.2"/><path d="M77.5 1453.8 L82.6 1449.4 L85.2 1457.5 Z"/><rect x="87.5" y="1459.6" width="5" height="6.8" rx="1.8"/></g><rect x="69.6" y="1451.9" width="4.6" height="1" rx=".5" fill="#030b27"/><circle cx="52.2" cy="1462.6" r="1.9" fill="none" stroke="#fff" stroke-width="1"/></g>
<text x="126.3" y="1462.2" font-size="23" fill="#ffffff" font-weight="700" font-family='"Liberation Sans", sans-serif' textLength="81" lengthAdjust="spacingAndGlyphs">Source:</text><text x="214" y="1462.2" font-size="23" fill="#ffffff" font-family='"Liberation Sans", sans-serif' textLength="340" lengthAdjust="spacingAndGlyphs">Moody's via Aswath Damodaran</text>
</g>
</svg>
</body>
</html>
